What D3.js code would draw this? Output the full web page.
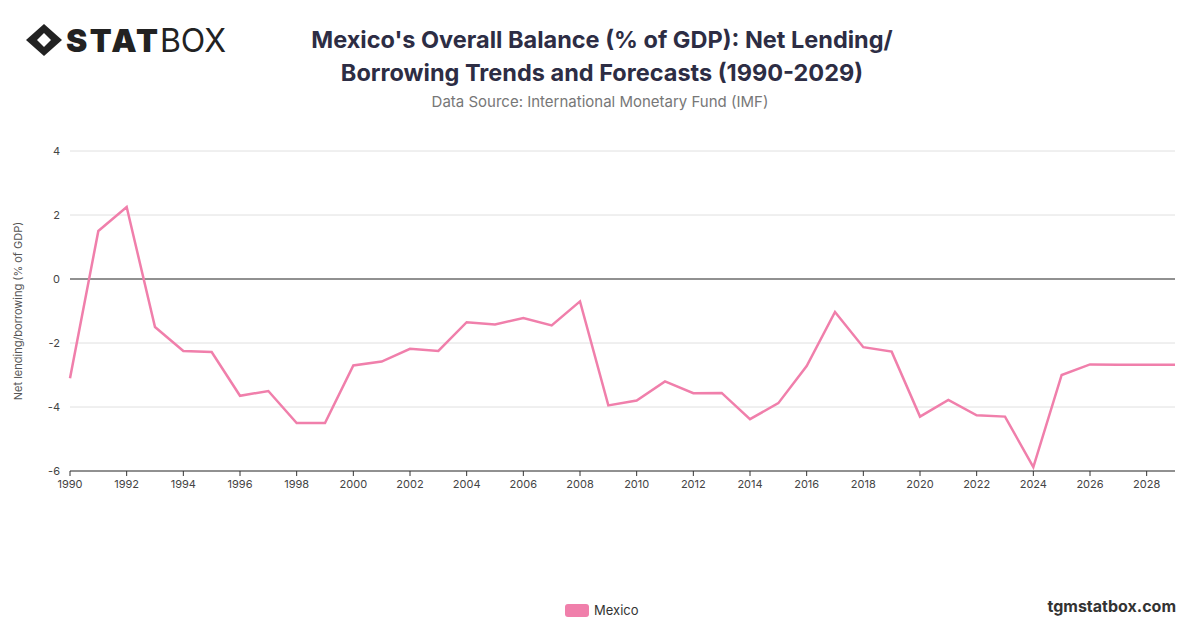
<!DOCTYPE html><html><head><meta charset="utf-8"><script src="https://cdn.jsdelivr.net/npm/d3@7"></script>
<style>body{margin:0;background:#fff;font-family:Inter,"Noto Sans",sans-serif}</style></head><body><svg id="c" width="1200" height="628"></svg>
<script>
const years=d3.range(1990,2030);
const values=[-3.1,1.5,2.25,-1.5,-2.25,-2.28,-3.65,-3.5,-4.5,-4.5,-2.7,-2.58,-2.18,-2.25,-1.35,-1.42,-1.22,-1.45,-0.7,-3.95,-3.8,-3.2,-3.57,-3.56,-4.38,-3.88,-2.72,-1.03,-2.13,-2.27,-4.3,-3.78,-4.26,-4.3,-5.88,-3.0,-2.67,-2.68,-2.68,-2.68];
const yTicks=[-6,-4,-2,0,2,4];
const xTicks=d3.range(1990,2030,2);
const svg=d3.select("#c");
const x=d3.scaleLinear().domain([1990,2029]).range([70,1175]);
const y=d3.scaleLinear().domain([-6,4]).range([471,151]);
svg.append("g").selectAll("line").data(yTicks).join("line").attr("x1",70).attr("x2",1175).attr("y1",d=>y(d)).attr("y2",d=>y(d)).attr("stroke",d=>d===0?"#222":"#e0e0e0").attr("stroke-width",1);
svg.append("g").selectAll("text").data(yTicks).join("text").attr("x",60).attr("y",d=>y(d)+4).attr("text-anchor","end").attr("font-size",11).attr("fill","#444").text(d=>d);
svg.append("line").attr("x1",70).attr("x2",1175).attr("y1",471).attr("y2",471).attr("stroke","#333");
svg.append("g").selectAll("text").data(xTicks).join("text").attr("x",d=>x(d)).attr("y",488).attr("text-anchor","middle").attr("font-size",11).attr("fill","#444").text(d=>d);
svg.append("g").selectAll("line").data(xTicks).join("line").attr("x1",d=>x(d)).attr("x2",d=>x(d)).attr("y1",471).attr("y2",476).attr("stroke","#333");
svg.append("path").datum(values).attr("fill","none").attr("stroke","#f07fab").attr("stroke-width",2.5)
 .attr("d",d3.line().x((d,i)=>x(years[i])).y(d=>y(d)));
svg.append("text").attr("transform","translate(22,311) rotate(-90)").attr("text-anchor","middle").attr("font-size",11).attr("fill","#555").text("Net lending/borrowing (% of GDP)");
svg.append("text").attr("x",602).attr("y",48).attr("text-anchor","middle").attr("font-size",23.5).attr("font-weight",700).attr("fill","#2d2d44").text("Mexico's Overall Balance (% of GDP): Net Lending/");
svg.append("text").attr("x",602).attr("y",81).attr("text-anchor","middle").attr("font-size",23.5).attr("font-weight",700).attr("fill","#2d2d44").text("Borrowing Trends and Forecasts (1990-2029)");
svg.append("text").attr("x",600).attr("y",107).attr("text-anchor","middle").attr("font-size",15).attr("fill","#777").text("Data Source: International Monetary Fund (IMF)");
svg.append("rect").attr("x",565).attr("y",604).attr("width",24).attr("height",13).attr("rx",3).attr("fill","#f07fab");
svg.append("text").attr("x",594).attr("y",615).attr("font-size",13).attr("fill","#333").text("Mexico");
svg.append("text").attr("x",1176).attr("y",612).attr("text-anchor","end").attr("font-size",16).attr("font-weight",700).attr("fill","#333").text("tgmstatbox.com");
const g=svg.append("g");
g.append("path").attr("d","M44,24 L62,40 L44,56 L26,40 Z").attr("fill","#222");
g.append("path").attr("d","M44,33 L51,40 L44,47 L37,40 Z").attr("fill","#fff");
g.append("text").attr("x",66).attr("y",52).attr("font-size",32).attr("font-weight",900).attr("fill","#222").attr("textLength",92).text("STAT");
g.append("text").attr("x",160).attr("y",52).attr("font-size",32).attr("font-weight",400).attr("fill","#222").attr("textLength",66).text("BOX");
</script></body></html>
